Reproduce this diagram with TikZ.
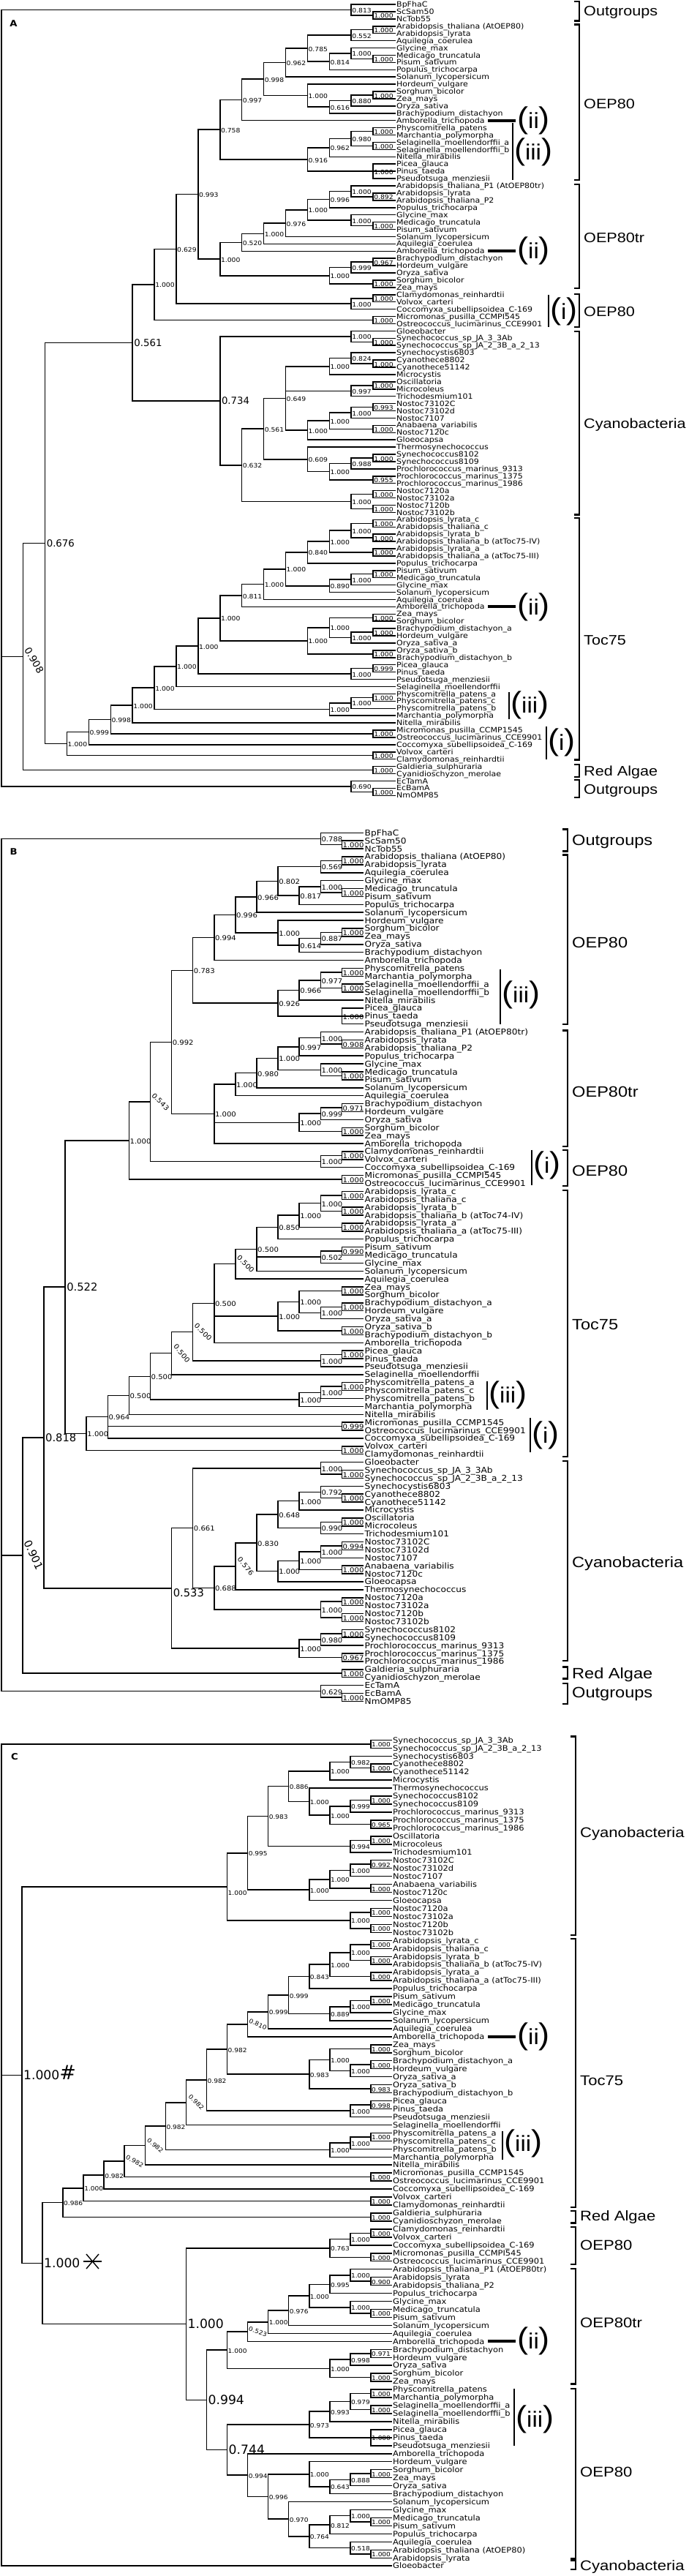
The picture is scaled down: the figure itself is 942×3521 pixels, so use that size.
\documentclass[tikz,border=0pt]{standalone}
\usepackage{fontspec}
\setmainfont{DejaVu Sans}
\newfontfamily\cnd[FakeStretch=1.1]{DejaVu Sans}
\newfontfamily\bgf{DejaVu Sans}
\newfontfamily\grf[FakeStretch=1.15]{Liberation Sans}
\newfontfamily\rmf[FakeStretch=1.1]{Liberation Sans}
\catcode`\_=12
\tikzset{
  br/.style={line width=1.5pt, line cap=rect},
  leaf/.style={anchor=base west, inner sep=0pt, xshift=2pt, yshift=-\lfd, font=\lff},
  bs/.style={anchor=base west, inner sep=0pt, xshift=1pt, yshift=-\bsd, font=\bsf},
  big/.style={anchor=base west, inner sep=0pt, xshift=2pt, yshift=-\bgd, font=\bgff},
  rot/.style={anchor=center, inner sep=0pt, xshift=14pt, rotate=#1, font=\bsf},
  bigrot/.style={anchor=center, inner sep=0pt, shift={(\brx,\bry)}, rotate=#1, font=\bgff},
  grp/.style={anchor=base west, inner sep=0pt, yshift=-\grd, font=\grff},
  rn/.style={anchor=west, inner sep=0pt, font=\rmf},
  gl/.style={line width=2.4pt},
  plet/.style={inner sep=0pt, font=\cnd\bfseries\fontsize{12}{12}\selectfont},
}
\newcommand\Lf[2]{%
  \pgfmathsetmacro\myty{\PY+(#1-1)*\PD}%
  \expandafter\xdef\csname TY:\PF#1\endcsname{\myty}%
  \expandafter\xdef\csname TH:\PF#1\endcsname{0}%
  \coordinate (\PF#1) at (\PX,\myty);%
  \node[leaf] (\PF#1t) at (\PF#1) {#2};%
}
\newcommand\Nd[4][bs]{%
  \gdef\mhmax{0}\gdef\mcf{}\gdef\mcl{}%
  \foreach \kid in {#4}{%
    \ifx\mcf\empty\xdef\mcf{\kid}\fi
    \xdef\mcl{\kid}%
    \edef\mhc{\csname TH:\kid\endcsname}%
    \pgfmathsetmacro\mtmp{max(\mhmax,\mhc)}%
    \xdef\mhmax{\mtmp}%
  }%
  \pgfmathsetmacro\mhh{\mhmax+1}%
  \pgfmathsetmacro\mxx{\PX-\PS*\mhh}%
  \edef\mya{\csname TY:\mcf\endcsname}%
  \edef\myb{\csname TY:\mcl\endcsname}%
  \pgfmathsetmacro\myy{(\mya+\myb)/2}%
  \expandafter\xdef\csname TY:#2\endcsname{\myy}%
  \expandafter\xdef\csname TH:#2\endcsname{\mhh}%
  \coordinate (#2) at (\mxx,\myy);%
  \draw[br] (#2 |- \mcf) -- (#2 |- \mcl);%
  \foreach \kid in {#4}{\draw[br] (#2 |- \kid) -- (\kid);}%
  \ifx\relax#3\relax\else\node[#1] (#2l) at (#2) {#3};\fi
}
\newcommand\Grp[5]{%
  \draw[gl] (\GX-7,#2) -- (\GX,#2) -- (\GX,#3) -- (\GX-7,#3);
  \node[grp] (#1) at (\GX+6,#4) {#5};}
\newcommand\rnt[1]{{\fontsize{41}{41}\selectfont(}{\fontsize{30}{30}\selectfont#1}{\fontsize{41}{41}\selectfont)}}
\newcommand\Mii[2]{%
  \draw[line width=4pt] (667,#2) -- (705,#2);
  \node[rn] (#1) at (707,#2) {\rnt{ii}};}
\newcommand\Mv[6]{%
  \draw[line width=2.5pt] (#2,#3) -- (#2,#4);
  \node[rn] (#1) at (#2+2,#5) {\rnt{#6}};}
\begin{document}
\begin{tikzpicture}[x=1pt,y=-1pt]
\fill[white] (0,0) rectangle (942,3521);
\useasboundingbox (0,0) rectangle (942,3521);
%================ PANEL A
\def\PF{A}\def\PX{540}\def\PS{29.9}\def\PY{6}\def\PD{9.92}
\def\lff{\cnd\fontsize{10}{10}\selectfont}\def\lfd{3.6pt}
\def\bsf{\cnd\fontsize{8.4}{8.4}\selectfont}\def\bsd{4pt}
\def\bgff{\bgf\fontsize{13.3}{13.3}\selectfont}\def\bgd{4.8pt}
\def\grff{\grf\fontsize{18.8}{18.8}\selectfont}\def\grd{6.7pt}
\def\GX{792}\def\brx{15pt}\def\bry{-5pt}
\node[plet] (pA) at (18.6,31.7) {A};
\Lf{1}{BpFhaC}
\Lf{2}{ScSam50}
\Lf{3}{NcTob55}
\Lf{4}{Arabidopsis_thaliana (AtOEP80)}
\Lf{5}{Arabidopsis_lyrata}
\Lf{6}{Aquilegia_coerulea}
\Lf{7}{Glycine_max}
\Lf{8}{Medicago_truncatula}
\Lf{9}{Pisum_sativum}
\Lf{10}{Populus_trichocarpa}
\Lf{11}{Solanum_lycopersicum}
\Lf{12}{Hordeum_vulgare}
\Lf{13}{Sorghum_bicolor}
\Lf{14}{Zea_mays}
\Lf{15}{Oryza_sativa}
\Lf{16}{Brachypodium_distachyon}
\Lf{17}{Amborella_trichopoda}
\Lf{18}{Physcomitrella_patens}
\Lf{19}{Marchantia_polymorpha}
\Lf{20}{Selaginella_moellendorffii_a}
\Lf{21}{Selaginella_moellendorffii_b}
\Lf{22}{Nitella_mirabilis}
\Lf{23}{Picea_glauca}
\Lf{24}{Pinus_taeda}
\Lf{25}{Pseudotsuga_menziesii}
\Lf{26}{Arabidopsis_thaliana_P1 (AtOEP80tr)}
\Lf{27}{Arabidopsis_lyrata}
\Lf{28}{Arabidopsis_thaliana_P2}
\Lf{29}{Populus_trichocarpa}
\Lf{30}{Glycine_max}
\Lf{31}{Medicago_truncatula}
\Lf{32}{Pisum_sativum}
\Lf{33}{Solanum_lycopersicum}
\Lf{34}{Aquilegia_coerulea}
\Lf{35}{Amborella_trichopoda}
\Lf{36}{Brachypodium_distachyon}
\Lf{37}{Hordeum_vulgare}
\Lf{38}{Oryza_sativa}
\Lf{39}{Sorghum_bicolor}
\Lf{40}{Zea_mays}
\Lf{41}{Clamydomonas_reinhardtii}
\Lf{42}{Volvox_carteri}
\Lf{43}{Coccomyxa_subellipsoidea_C-169}
\Lf{44}{Micromonas_pusilla_CCMPI545}
\Lf{45}{Ostreococcus_lucimarinus_CCE9901}
\Lf{46}{Gloeobacter}
\Lf{47}{Synechococcus_sp_JA_3_3Ab}
\Lf{48}{Synechococcus_sp_JA_2_3B_a_2_13}
\Lf{49}{Synechocystis6803}
\Lf{50}{Cyanothece8802}
\Lf{51}{Cyanothece51142}
\Lf{52}{Microcystis}
\Lf{53}{Oscillatoria}
\Lf{54}{Microcoleus}
\Lf{55}{Trichodesmium101}
\Lf{56}{Nostoc73102C}
\Lf{57}{Nostoc73102d}
\Lf{58}{Nostoc7107}
\Lf{59}{Anabaena_variabilis}
\Lf{60}{Nostoc7120c}
\Lf{61}{Gloeocapsa}
\Lf{62}{Thermosynechococcus}
\Lf{63}{Synechococcus8102}
\Lf{64}{Synechococcus8109}
\Lf{65}{Prochlorococcus_marinus_9313}
\Lf{66}{Prochlorococcus_marinus_1375}
\Lf{67}{Prochlorococcus_marinus_1986}
\Lf{68}{Nostoc7120a}
\Lf{69}{Nostoc73102a}
\Lf{70}{Nostoc7120b}
\Lf{71}{Nostoc73102b}
\Lf{72}{Arabidopsis_lyrata_c}
\Lf{73}{Arabidopsis_thaliana_c}
\Lf{74}{Arabidopsis_lyrata_b}
\Lf{75}{Arabidopsis_thaliana_b (atToc75-IV)}
\Lf{76}{Arabidopsis_lyrata_a}
\Lf{77}{Arabidopsis_thaliana_a (atToc75-III)}
\Lf{78}{Populus_trichocarpa}
\Lf{79}{Pisum_sativum}
\Lf{80}{Medicago_truncatula}
\Lf{81}{Glycine_max}
\Lf{82}{Solanum_lycopersicum}
\Lf{83}{Aquilegia_coerulea}
\Lf{84}{Amborella_trichopoda}
\Lf{85}{Zea_mays}
\Lf{86}{Sorghum_bicolor}
\Lf{87}{Brachypodium_distachyon_a}
\Lf{88}{Hordeum_vulgare}
\Lf{89}{Oryza_sativa_a}
\Lf{90}{Oryza_sativa_b}
\Lf{91}{Brachypodium_distachyon_b}
\Lf{92}{Picea_glauca}
\Lf{93}{Pinus_taeda}
\Lf{94}{Pseudotsuga_menziesii}
\Lf{95}{Selaginella_moellendorffii}
\Lf{96}{Physcomitrella_patens_a}
\Lf{97}{Physcomitrella_patens_c}
\Lf{98}{Physcomitrella_patens_b}
\Lf{99}{Marchantia_polymorpha}
\Lf{100}{Nitella_mirabilis}
\Lf{101}{Micromonas_pusilla_CCMP1545}
\Lf{102}{Ostreococcus_lucimarinus_CCE9901}
\Lf{103}{Coccomyxa_subellipsoidea_C-169}
\Lf{104}{Volvox_carteri}
\Lf{105}{Clamydomonas_reinhardtii}
\Lf{106}{Galdieria_sulphuraria}
\Lf{107}{Cyanidioschyzon_merolae}
\Lf{108}{EcTamA}
\Lf{109}{EcBamA}
\Lf{110}{NmOMP85}
\Nd{An1}{1.000}{A2,A3}
\Nd{An2}{0.813}{A1,An1}
\Nd{Ao1}{1.000}{A4,A5}
\Nd{Ao2}{0.552}{Ao1,A6}
\Nd{Ao3}{1.000}{A8,A9}
\Nd{Ao4}{1.000}{A7,Ao3}
\Nd{Ao5}{0.814}{Ao4,A10}
\Nd{Ao6}{0.785}{Ao2,Ao5}
\Nd{Ao7}{0.962}{Ao6,A11}
\Nd{Ao8}{1.000}{A13,A14}
\Nd{Ao9}{0.880}{Ao8,A15}
\Nd{Ao10}{0.616}{Ao9,A16}
\Nd{Ao11}{1.000}{A12,Ao10}
\Nd{Ao12}{0.998}{Ao7,Ao11}
\Nd{Ao13}{0.997}{Ao12,A17}
\Nd{Ao14}{1.000}{A18,A19}
\Nd{Ao15}{1.000}{A20,A21}
\Nd{Ao16}{0.980}{Ao14,Ao15}
\Nd{Ao17}{0.962}{Ao16,A22}
\Nd{Ao18}{1.000}{A23,A24,A25}
\Nd{Ao19}{0.916}{Ao17,Ao18}
\Nd{Ao20}{0.758}{Ao13,Ao19}
\Nd{At1}{0.892}{A27,A28}
\Nd{At2}{1.000}{A26,At1}
\Nd{At3}{0.996}{At2,A29}
\Nd{At4}{1.000}{A31,A32}
\Nd{At5}{1.000}{A30,At4}
\Nd{At6}{1.000}{At3,At5}
\Nd{At7}{0.976}{At6,A33}
\Nd{At8}{1.000}{At7,A34}
\Nd{At9}{0.520}{At8,A35}
\Nd{At10}{0.967}{A36,A37}
\Nd{At11}{0.999}{At10,A38}
\Nd{At12}{1.000}{A39,A40}
\Nd{At13}{1.000}{At11,At12}
\Nd{At14}{1.000}{At9,At13}
\Nd{Ap1}{0.993}{Ao20,At14}
\Nd{Ac1}{1.000}{A41,A42}
\Nd{Ac2}{1.000}{Ac1,A43}
\Nd{Ap2}{0.629}{Ap1,Ac2}
\Nd{Am1}{1.000}{A44,A45}
\Nd{Ap3}{1.000}{Ap2,Am1}
\Nd{Ay1}{1.000}{A47,A48}
\Nd{Ay2}{1.000}{A46,Ay1}
\Nd{Ay3}{1.000}{A50,A51}
\Nd{Ay4}{0.824}{A49,Ay3}
\Nd{Ay5}{1.000}{Ay4,A52}
\Nd{Ay6}{1.000}{A53,A54}
\Nd{Ay7}{0.997}{Ay6,A55}
\Nd{Ay8}{0.993}{A56,A57}
\Nd{Ay9}{1.000}{Ay8,A58}
\Nd{Ay10}{1.000}{A59,A60}
\Nd{Ay11}{1.000}{Ay9,Ay10}
\Nd{Ay12}{1.000}{Ay11,A61}
\Nd{Ay13}{0.649}{Ay5,Ay7,Ay12}
\Nd{Ay14}{1.000}{A63,A64}
\Nd{Ay15}{0.988}{Ay14,A65}
\Nd{Ay16}{0.955}{A66,A67}
\Nd{Ay17}{1.000}{Ay15,Ay16}
\Nd{Ay18}{0.609}{A62,Ay17}
\Nd{Ay19}{0.561}{Ay13,Ay18}
\Nd{Ay20}{1.000}{A68,A69}
\Nd{Ay21}{1.000}{A70,A71}
\Nd{Ay22}{1.000}{Ay20,Ay21}
\Nd{Ay23}{0.632}{Ay19,Ay22}
\Nd[big]{Ay24}{0.734}{Ay2,Ay23}
\Nd[big]{Ar1}{0.561}{Ap3,Ay24}
\Nd{Ak1}{1.000}{A72,A73}
\Nd{Ak2}{1.000}{A74,A75}
\Nd{Ak3}{1.000}{Ak1,Ak2}
\Nd{Ak4}{1.000}{A76,A77}
\Nd{Ak5}{1.000}{Ak3,Ak4}
\Nd{Ak6}{0.840}{Ak5,A78}
\Nd{Ak7}{1.000}{A79,A80}
\Nd{Ak8}{1.000}{Ak7,A81}
\Nd{Ak9}{0.890}{Ak8,A82}
\Nd{Ak10}{1.000}{Ak6,Ak9}
\Nd{Ak11}{1.000}{Ak10,A83}
\Nd{Ak12}{0.811}{Ak11,A84}
\Nd{Ak13}{1.000}{A85,A86}
\Nd{Ak14}{1.000}{A87,A88}
\Nd{Ak15}{1.000}{Ak14,A89}
\Nd{Ak16}{1.000}{Ak13,Ak15}
\Nd{Ak17}{1.000}{A90,A91}
\Nd{Ak18}{1.000}{Ak16,Ak17}
\Nd{Ak19}{1.000}{Ak12,Ak18}
\Nd{Ak20}{0.999}{A92,A93}
\Nd{Ak21}{1.000}{Ak20,A94}
\Nd{Ak22}{1.000}{Ak19,Ak21}
\Nd{Ak23}{1.000}{Ak22,A95}
\Nd{Ak24}{1.000}{A96,A97}
\Nd{Ak25}{1.000}{Ak24,A98}
\Nd{Ak26}{1.000}{Ak25,A99}
\Nd{Ak27}{1.000}{Ak23,Ak26}
\Nd{Ak28}{1.000}{Ak27,A100}
\Nd{Ak29}{1.000}{A101,A102}
\Nd{Ak30}{0.998}{Ak28,Ak29}
\Nd{Ak31}{0.999}{Ak30,A103}
\Nd{Ak32}{1.000}{A104,A105}
\Nd{Ak33}{1.000}{Ak31,Ak32}
\Nd[big]{Ar2}{0.676}{Ar1,Ak33}
\Nd{Ara}{1.000}{A106,A107}
\Nd[bigrot=-60]{Ar3}{0.908}{Ar2,Ara}
\Nd{Aq1}{1.000}{A109,A110}
\Nd{Aq2}{0.690}{A108,Aq1}
\Nd{Aroot}{}{An2,Ar3,Aq2}
\Grp{gA1}{1.7}{28.3}{15}{Outgroups}
\Grp{gA2}{33.3}{245.7}{141.7}{OEP80}
\Grp{gA3}{251.7}{394}{324.3}{OEP80tr}
\Grp{gA4}{401.7}{446.7}{426}{OEP80}
\Grp{gA5}{452.7}{703.3}{578.3}{Cyanobacteria}
\Grp{gA6}{707.7}{1038.3}{875}{Toc75}
\Grp{gA7}{1045}{1061.7}{1053.3}{Red Algae}
\Grp{gA8}{1065.7}{1090}{1078.3}{Outgroups}
\Mii{mA1}{164.7}
\Mv{mA2}{700.8}{168.3}{245.7}{208.3}{iii}
\Mii{mA3}{343.3}
\Mv{mA4}{750}{403}{446.7}{426}{i}
\Mii{mA5}{829.4}
\Mv{mA6}{696}{946}{983.3}{964.3}{iii}
\Mv{mA7}{747}{993.3}{1038.3}{1015}{i}
%================ PANEL B
\def\PF{B}\def\PX{496.5}\def\PS{29.1}\def\PY{1138.3}\def\PD{10.89}
\def\lff{\cnd\fontsize{11.05}{11.05}\selectfont}\def\lfd{4pt}
\def\bsf{\cnd\fontsize{9.15}{9.15}\selectfont}\def\bsd{4.3pt}
\def\bgff{\bgf\fontsize{14.7}{14.7}\selectfont}\def\bgd{5.3pt}
\def\grff{\grf\fontsize{20.5}{20.5}\selectfont}\def\grd{7.3pt}
\def\GX{776}\def\brx{15pt}\def\bry{1pt}
\node[plet] (pB) at (18.6,1164.3) {B};
\Lf{1}{BpFhaC}
\Lf{2}{ScSam50}
\Lf{3}{NcTob55}
\Lf{4}{Arabidopsis_thaliana (AtOEP80)}
\Lf{5}{Arabidopsis_lyrata}
\Lf{6}{Aquilegia_coerulea}
\Lf{7}{Glycine_max}
\Lf{8}{Medicago_truncatula}
\Lf{9}{Pisum_sativum}
\Lf{10}{Populus_trichocarpa}
\Lf{11}{Solanum_lycopersicum}
\Lf{12}{Hordeum_vulgare}
\Lf{13}{Sorghum_bicolor}
\Lf{14}{Zea_mays}
\Lf{15}{Oryza_sativa}
\Lf{16}{Brachypodium_distachyon}
\Lf{17}{Amborella_trichopoda}
\Lf{18}{Physcomitrella_patens}
\Lf{19}{Marchantia_polymorpha}
\Lf{20}{Selaginella_moellendorffii_a}
\Lf{21}{Selaginella_moellendorffii_b}
\Lf{22}{Nitella_mirabilis}
\Lf{23}{Picea_glauca}
\Lf{24}{Pinus_taeda}
\Lf{25}{Pseudotsuga_menziesii}
\Lf{26}{Arabidopsis_thaliana_P1 (AtOEP80tr)}
\Lf{27}{Arabidopsis_lyrata}
\Lf{28}{Arabidopsis_thaliana_P2}
\Lf{29}{Populus_trichocarpa}
\Lf{30}{Glycine_max}
\Lf{31}{Medicago_truncatula}
\Lf{32}{Pisum_sativum}
\Lf{33}{Solanum_lycopersicum}
\Lf{34}{Aquilegia_coerulea}
\Lf{35}{Brachypodium_distachyon}
\Lf{36}{Hordeum_vulgare}
\Lf{37}{Oryza_sativa}
\Lf{38}{Sorghum_bicolor}
\Lf{39}{Zea_mays}
\Lf{40}{Amborella_trichopoda}
\Lf{41}{Clamydomonas_reinhardtii}
\Lf{42}{Volvox_carteri}
\Lf{43}{Coccomyxa_subellipsoidea_C-169}
\Lf{44}{Micromonas_pusilla_CCMPI545}
\Lf{45}{Ostreococcus_lucimarinus_CCE9901}
\Lf{46}{Arabidopsis_lyrata_c}
\Lf{47}{Arabidopsis_thaliana_c}
\Lf{48}{Arabidopsis_lyrata_b}
\Lf{49}{Arabidopsis_thaliana_b (atToc74-IV)}
\Lf{50}{Arabidopsis_lyrata_a}
\Lf{51}{Arabidopsis_thaliana_a (atToc75-III)}
\Lf{52}{Populus_trichocarpa}
\Lf{53}{Pisum_sativum}
\Lf{54}{Medicago_truncatula}
\Lf{55}{Glycine_max}
\Lf{56}{Solanum_lycopersicum}
\Lf{57}{Aquilegia_coerulea}
\Lf{58}{Zea_mays}
\Lf{59}{Sorghum_bicolor}
\Lf{60}{Brachypodium_distachyon_a}
\Lf{61}{Hordeum_vulgare}
\Lf{62}{Oryza_sativa_a}
\Lf{63}{Oryza_sativa_b}
\Lf{64}{Brachypodium_distachyon_b}
\Lf{65}{Amborella_trichopoda}
\Lf{66}{Picea_glauca}
\Lf{67}{Pinus_taeda}
\Lf{68}{Pseudotsuga_menziesii}
\Lf{69}{Selaginella_moellendorffii}
\Lf{70}{Physcomitrella_patens_a}
\Lf{71}{Physcomitrella_patens_c}
\Lf{72}{Physcomitrella_patens_b}
\Lf{73}{Marchantia_polymorpha}
\Lf{74}{Nitella_mirabilis}
\Lf{75}{Micromonas_pusilla_CCMP1545}
\Lf{76}{Ostreococcus_lucimarinus_CCE9901}
\Lf{77}{Coccomyxa_subellipsoidea_C-169}
\Lf{78}{Volvox_carteri}
\Lf{79}{Clamydomonas_reinhardtii}
\Lf{80}{Gloeobacter}
\Lf{81}{Synechococcus_sp_JA_3_3Ab}
\Lf{82}{Synechococcus_sp_JA_2_3B_a_2_13}
\Lf{83}{Synechocystis6803}
\Lf{84}{Cyanothece8802}
\Lf{85}{Cyanothece51142}
\Lf{86}{Microcystis}
\Lf{87}{Oscillatoria}
\Lf{88}{Microcoleus}
\Lf{89}{Trichodesmium101}
\Lf{90}{Nostoc73102C}
\Lf{91}{Nostoc73102d}
\Lf{92}{Nostoc7107}
\Lf{93}{Anabaena_variabilis}
\Lf{94}{Nostoc7120c}
\Lf{95}{Gloeocapsa}
\Lf{96}{Thermosynechococcus}
\Lf{97}{Nostoc7120a}
\Lf{98}{Nostoc73102a}
\Lf{99}{Nostoc7120b}
\Lf{100}{Nostoc73102b}
\Lf{101}{Synechococcus8102}
\Lf{102}{Synechococcus8109}
\Lf{103}{Prochlorococcus_marinus_9313}
\Lf{104}{Prochlorococcus_marinus_1375}
\Lf{105}{Prochlorococcus_marinus_1986}
\Lf{106}{Galdieria_sulphuraria}
\Lf{107}{Cyanidioschyzon_merolae}
\Lf{108}{EcTamA}
\Lf{109}{EcBamA}
\Lf{110}{NmOMP85}
\Nd{Bn1}{1.000}{B2,B3}
\Nd{Bn2}{0.788}{B1,Bn1}
\Nd{Bo1}{1.000}{B4,B5}
\Nd{Bo2}{0.569}{Bo1,B6}
\Nd{Bo3}{1.000}{B8,B9}
\Nd{Bo4}{1.000}{B7,Bo3}
\Nd{Bo5}{0.817}{Bo4,B10}
\Nd{Bo6}{0.802}{Bo2,Bo5}
\Nd{Bo7}{0.966}{Bo6,B11}
\Nd{Bo8}{1.000}{B13,B14}
\Nd{Bo9}{0.887}{Bo8,B15}
\Nd{Bo10}{0.614}{Bo9,B16}
\Nd{Bo11}{1.000}{B12,Bo10}
\Nd{Bo12}{0.996}{Bo7,Bo11}
\Nd{Bo13}{0.994}{Bo12,B17}
\Nd{Bo14}{1.000}{B18,B19}
\Nd{Bo15}{1.000}{B20,B21}
\Nd{Bo16}{0.977}{Bo14,Bo15}
\Nd{Bo17}{0.966}{Bo16,B22}
\Nd{Bo18}{1.000}{B23,B24,B25}
\Nd{Bo19}{0.926}{Bo17,Bo18}
\Nd{Bo20}{0.783}{Bo13,Bo19}
\Nd{Bt1}{0.908}{B27,B28}
\Nd{Bt2}{1.000}{B26,Bt1}
\Nd{Bt3}{0.997}{Bt2,B29}
\Nd{Bt4}{1.000}{B31,B32}
\Nd{Bt5}{1.000}{B30,Bt4}
\Nd{Bt6}{1.000}{Bt3,Bt5}
\Nd{Bt7}{0.980}{Bt6,B33}
\Nd{Bt8}{1.000}{Bt7,B34}
\Nd{Bt9}{0.971}{B35,B36}
\Nd{Bt10}{0.999}{Bt9,B37}
\Nd{Bt11}{1.000}{B38,B39}
\Nd{Bt12}{1.000}{Bt10,Bt11}
\Nd{Bt13}{1.000}{Bt8,Bt12,B40}
\Nd{Bp1}{0.992}{Bo20,Bt13}
\Nd{Bc1}{1.000}{B41,B42}
\Nd{Bc2}{1.000}{Bc1,B43}
\Nd[rot=-45]{Bp2}{0.543}{Bp1,Bc2}
\Nd{Bm1}{1.000}{B44,B45}
\Nd{Bp3}{1.000}{Bp2,Bm1}
\Nd{Bk1}{1.000}{B46,B47}
\Nd{Bk2}{1.000}{B48,B49}
\Nd{Bk3}{1.000}{Bk1,Bk2}
\Nd{Bk4}{1.000}{B50,B51}
\Nd{Bk5}{1.000}{Bk3,Bk4}
\Nd{Bk6}{0.850}{Bk5,B52}
\Nd{Bk7}{0.990}{B53,B54}
\Nd{Bk8}{0.502}{Bk7,B55}
\Nd{Bk9}{0.500}{Bk6,Bk8,B56}
\Nd[rot=-45]{Bk10}{0.500}{Bk9,B57}
\Nd{Bk11}{1.000}{B58,B59}
\Nd{Bk12}{1.000}{B60,B61}
\Nd{Bk13}{1.000}{Bk12,B62}
\Nd{Bk14}{1.000}{Bk11,Bk13}
\Nd{Bk15}{1.000}{B63,B64}
\Nd{Bk16}{1.000}{Bk14,Bk15}
\Nd{Bk17}{0.500}{Bk10,Bk16,B65}
\Nd{Bk18}{1.000}{B66,B67}
\Nd{Bk19}{1.000}{Bk18,B68}
\Nd[rot=-45]{Bk20}{0.500}{Bk17,Bk19}
\Nd[rot=-50]{Bk21}{0.500}{Bk20,B69}
\Nd{Bk22}{1.000}{B70,B71}
\Nd{Bk23}{1.000}{Bk22,B72}
\Nd{Bk24}{1.000}{Bk23,B73}
\Nd{Bk25}{0.500}{Bk21,Bk24}
\Nd{Bk26}{0.500}{Bk25,B74}
\Nd{Bk27}{0.999}{B75,B76}
\Nd{Bk28}{0.964}{Bk26,Bk27,B77}
\Nd{Bk29}{1.000}{B78,B79}
\Nd{Bk30}{1.000}{Bk28,Bk29}
\Nd{By1}{1.000}{B81,B82}
\Nd{By2}{1.000}{B80,By1}
\Nd{By3}{1.000}{B84,B85}
\Nd{By4}{0.792}{B83,By3}
\Nd{By5}{1.000}{By4,B86}
\Nd{By6}{1.000}{B87,B88}
\Nd{By7}{0.990}{By6,B89}
\Nd{By8}{0.648}{By5,By7}
\Nd{By9}{0.994}{B90,B91}
\Nd{By10}{1.000}{By9,B92}
\Nd{By11}{1.000}{B93,B94}
\Nd{By12}{1.000}{By10,By11}
\Nd{By13}{1.000}{By12,B95}
\Nd{By14}{0.830}{By8,By13}
\Nd[rot=-50]{By15}{0.576}{By14,B96}
\Nd{By16}{1.000}{B97,B98}
\Nd{By17}{1.000}{B99,B100}
\Nd{By18}{1.000}{By16,By17}
\Nd{By19}{0.688}{By15,By18}
\Nd{By20}{0.661}{By2,By19}
\Nd{By21}{1.000}{B101,B102}
\Nd{By22}{0.980}{By21,B103}
\Nd{By23}{0.967}{B104,B105}
\Nd{By24}{1.000}{By22,By23}
\Nd[big,yshift=-6pt]{By25}{0.533}{By20,By24}
\Nd[big]{Bq1}{0.522}{Bp3,Bk30}
\Nd[big]{Bq2}{0.818}{Bq1,By25}
\Nd{Bra}{1.000}{B106,B107}
\Nd[bigrot=-65]{Bq3}{0.901}{Bq2,Bra}
\Nd{Bz1}{1.000}{B109,B110}
\Nd{Bz2}{0.629}{B108,Bz1}
\Nd{Broot}{}{Bn2,Bq3,Bz2}
\Grp{gB1}{1133.3}{1163.3}{1148.3}{Outgroups}
\Grp{gB2}{1168.3}{1400}{1288.3}{OEP80}
\Grp{gB3}{1408.3}{1566.7}{1491.7}{OEP80tr}
\Grp{gB4}{1571.7}{1621}{1600}{OEP80}
\Grp{gB5}{1626.7}{1991}{1810}{Toc75}
\Grp{gB6}{1996.7}{2270}{2135}{Cyanobacteria}
\Grp{gB7}{2278.3}{2294.3}{2286.7}{Red Algae}
\Grp{gB8}{2300.7}{2329}{2313.3}{Outgroups}
\Mv{mB1}{684}{1325}{1400}{1360}{iii}
\Mv{mB2}{727}{1571.7}{1620}{1593.3}{i}
\Mv{mB3}{666}{1887.7}{1926.7}{1906.7}{iii}
\Mv{mB4}{725}{1938.3}{1985}{1961.7}{i}
%================ PANEL C
\def\PF{C}\def\PX{535}\def\PS{28.06}\def\PY{2378.3}\def\PD{10.96}
\def\lff{\cnd\fontsize{10.4}{10.4}\selectfont}\def\lfd{3.75pt}
\def\bsf{\cnd\fontsize{8.2}{8.2}\selectfont}\def\bsd{4pt}
\def\bgff{\bgf\fontsize{17.2}{17.2}\selectfont}\def\bgd{6.2pt}
\def\grff{\grf\fontsize{19.2}{19.2}\selectfont}\def\grd{6.9pt}
\def\GX{787}
\node[plet] (pC) at (20,2401) {C};
\Lf{1}{Synechococcus_sp_JA_3_3Ab}
\Lf{2}{Synechococcus_sp_JA_2_3B_a_2_13}
\Lf{3}{Synechocystis6803}
\Lf{4}{Cyanothece8802}
\Lf{5}{Cyanothece51142}
\Lf{6}{Microcystis}
\Lf{7}{Thermosynechococcus}
\Lf{8}{Synechococcus8102}
\Lf{9}{Synechococcus8109}
\Lf{10}{Prochlorococcus_marinus_9313}
\Lf{11}{Prochlorococcus_marinus_1375}
\Lf{12}{Prochlorococcus_marinus_1986}
\Lf{13}{Oscillatoria}
\Lf{14}{Microcoleus}
\Lf{15}{Trichodesmium101}
\Lf{16}{Nostoc73102C}
\Lf{17}{Nostoc73102d}
\Lf{18}{Nostoc7107}
\Lf{19}{Anabaena_variabilis}
\Lf{20}{Nostoc7120c}
\Lf{21}{Gloeocapsa}
\Lf{22}{Nostoc7120a}
\Lf{23}{Nostoc73102a}
\Lf{24}{Nostoc7120b}
\Lf{25}{Nostoc73102b}
\Lf{26}{Arabidopsis_lyrata_c}
\Lf{27}{Arabidopsis_thaliana_c}
\Lf{28}{Arabidopsis_lyrata_b}
\Lf{29}{Arabidopsis_thaliana_b (atToc75-IV)}
\Lf{30}{Arabidopsis_lyrata_a}
\Lf{31}{Arabidopsis_thaliana_a (atToc75-III)}
\Lf{32}{Populus_trichocarpa}
\Lf{33}{Pisum_sativum}
\Lf{34}{Medicago_truncatula}
\Lf{35}{Glycine_max}
\Lf{36}{Solanum_lycopersicum}
\Lf{37}{Aquilegia_coerulea}
\Lf{38}{Amborella_trichopoda}
\Lf{39}{Zea_mays}
\Lf{40}{Sorghum_bicolor}
\Lf{41}{Brachypodium_distachyon_a}
\Lf{42}{Hordeum_vulgare}
\Lf{43}{Oryza_sativa_a}
\Lf{44}{Oryza_sativa_b}
\Lf{45}{Brachypodium_distachyon_b}
\Lf{46}{Picea_glauca}
\Lf{47}{Pinus_taeda}
\Lf{48}{Pseudotsuga_menziesii}
\Lf{49}{Selaginella_moellendorffii}
\Lf{50}{Physcomitrella_patens_a}
\Lf{51}{Physcomitrella_patens_c}
\Lf{52}{Physcomitrella_patens_b}
\Lf{53}{Marchantia_polymorpha}
\Lf{54}{Nitella_mirabilis}
\Lf{55}{Micromonas_pusilla_CCMP1545}
\Lf{56}{Ostreococcus_lucimarinus_CCE9901}
\Lf{57}{Coccomyxa_subellipsoidea_C-169}
\Lf{58}{Volvox_carteri}
\Lf{59}{Clamydomonas_reinhardtii}
\Lf{60}{Galdieria_sulphuraria}
\Lf{61}{Cyanidioschyzon_merolae}
\Lf{62}{Clamydomonas_reinhardtii}
\Lf{63}{Volvox_carteri}
\Lf{64}{Coccomyxa_subellipsoidea_C-169}
\Lf{65}{Micromonas_pusilla_CCMPI545}
\Lf{66}{Ostreococcus_lucimarinus_CCE9901}
\Lf{67}{Arabidopsis_thaliana_P1 (AtOEP80tr)}
\Lf{68}{Arabidopsis_lyrata}
\Lf{69}{Arabidopsis_thaliana_P2}
\Lf{70}{Populus_trichocarpa}
\Lf{71}{Glycine_max}
\Lf{72}{Medicago_truncatula}
\Lf{73}{Pisum_sativum}
\Lf{74}{Solanum_lycopersicum}
\Lf{75}{Aquilegia_coerulea}
\Lf{76}{Amborella_trichopoda}
\Lf{77}{Brachypodium_distachyon}
\Lf{78}{Hordeum_vulgare}
\Lf{79}{Oryza_sativa}
\Lf{80}{Sorghum_bicolor}
\Lf{81}{Zea_mays}
\Lf{82}{Physcomitrella_patens}
\Lf{83}{Marchantia_polymorpha}
\Lf{84}{Selaginella_moellendorffii_a}
\Lf{85}{Selaginella_moellendorffii_b}
\Lf{86}{Nitella_mirabilis}
\Lf{87}{Picea_glauca}
\Lf{88}{Pinus_taeda}
\Lf{89}{Pseudotsuga_menziesii}
\Lf{90}{Amborella_trichopoda}
\Lf{91}{Hordeum_vulgare}
\Lf{92}{Sorghum_bicolor}
\Lf{93}{Zea_mays}
\Lf{94}{Oryza_sativa}
\Lf{95}{Brachypodium_distachyon}
\Lf{96}{Solanum_lycopersicum}
\Lf{97}{Glycine_max}
\Lf{98}{Medicago_truncatula}
\Lf{99}{Pisum_sativum}
\Lf{100}{Populus_trichocarpa}
\Lf{101}{Aquilegia_coerulea}
\Lf{102}{Arabidopsis_thaliana (AtOEP80)}
\Lf{103}{Arabidopsis_lyrata}
\Lf{104}{Gloeobacter}
\Nd{Cn1}{1.000}{C1,C2}
\Nd{Cy1}{1.000}{C4,C5}
\Nd{Cy2}{0.982}{C3,Cy1}
\Nd{Cy3}{1.000}{Cy2,C6}
\Nd{Cy4}{1.000}{C8,C9}
\Nd{Cy5}{0.999}{Cy4,C10}
\Nd{Cy6}{0.965}{C11,C12}
\Nd{Cy7}{1.000}{Cy5,Cy6}
\Nd{Cy8}{1.000}{C7,Cy7}
\Nd{Cy9}{0.886}{Cy3,Cy8}
\Nd{Cy10}{1.000}{C13,C14}
\Nd{Cy11}{0.994}{Cy10,C15}
\Nd{Cy12}{0.983}{Cy9,Cy11}
\Nd{Cy13}{0.992}{C16,C17}
\Nd{Cy14}{1.000}{Cy13,C18}
\Nd{Cy15}{1.000}{C19,C20}
\Nd{Cy16}{1.000}{Cy14,Cy15}
\Nd{Cy17}{1.000}{Cy16,C21}
\Nd{Cy18}{0.995}{Cy12,Cy17}
\Nd{Cy19}{1.000}{C22,C23}
\Nd{Cy20}{1.000}{C24,C25}
\Nd{Cy21}{1.000}{Cy19,Cy20}
\Nd[bs,yshift=-8pt]{Cy22}{1.000}{Cy18,Cy21}
\Nd{Ck1}{1.000}{C26,C27}
\Nd{Ck2}{1.000}{C28,C29}
\Nd{Ck3}{1.000}{Ck1,Ck2}
\Nd{Ck4}{1.000}{C30,C31}
\Nd{Ck5}{1.000}{Ck3,Ck4}
\Nd{Ck6}{0.843}{Ck5,C32}
\Nd{Ck7}{1.000}{C33,C34}
\Nd{Ck8}{1.000}{Ck7,C35}
\Nd{Ck9}{0.889}{Ck8,C36}
\Nd{Ck10}{0.999}{Ck6,Ck9}
\Nd{Ck11}{0.999}{Ck10,C37}
\Nd[rot=-25]{Ck12}{0.810}{Ck11,C38}
\Nd{Ck13}{1.000}{C39,C40}
\Nd{Ck14}{1.000}{C41,C42}
\Nd{Ck15}{1.000}{Ck14,C43}
\Nd{Ck16}{1.000}{Ck13,Ck15}
\Nd{Ck17}{0.983}{C44,C45}
\Nd{Ck18}{0.983}{Ck16,Ck17}
\Nd{Ck19}{0.982}{Ck12,Ck18}
\Nd{Ck20}{0.998}{C46,C47}
\Nd{Ck21}{1.000}{Ck20,C48}
\Nd{Ck22}{0.982}{Ck19,Ck21}
\Nd[rot=-45]{Ck23}{0.982}{Ck22,C49}
\Nd{Ck24}{1.000}{C50,C51}
\Nd{Ck25}{1.000}{Ck24,C52}
\Nd{Ck26}{1.000}{Ck25,C53}
\Nd{Ck27}{0.982}{Ck23,Ck26}
\Nd[rot=-40]{Ck28}{0.982}{Ck27,C54}
\Nd{Ck29}{1.000}{C55,C56}
\Nd[rot=-28]{Ck30}{0.982}{Ck28,Ck29}
\Nd{Ck31}{0.982}{Ck30,C57}
\Nd{Ck32}{1.000}{C58,C59}
\Nd{Ck33}{1.000}{Ck31,Ck32}
\Nd{Cra}{1.000}{C60,C61}
\Nd{Ck34}{0.986}{Ck33,Cra}
\Nd{Cc1}{1.000}{C62,C63}
\Nd{Cc2}{1.000}{Cc1,C64}
\Nd{Cc3}{1.000}{C65,C66}
\Nd{Cc4}{0.763}{Cc2,Cc3}
\Nd{Ct1}{0.900}{C68,C69}
\Nd{Ct2}{1.000}{C67,Ct1}
\Nd{Ct3}{0.995}{Ct2,C70}
\Nd{Ct4}{1.000}{C72,C73}
\Nd{Ct5}{1.000}{C71,Ct4}
\Nd{Ct6}{1.000}{Ct3,Ct5}
\Nd{Ct7}{0.976}{Ct6,C74}
\Nd{Ct8}{1.000}{Ct7,C75}
\Nd[rot=-18]{Ct9}{0.523}{Ct8,C76}
\Nd{Ct10}{0.971}{C77,C78}
\Nd{Ct11}{0.998}{Ct10,C79}
\Nd{Ct12}{1.000}{C80,C81}
\Nd{Ct13}{1.000}{Ct11,Ct12}
\Nd{Ct14}{1.000}{Ct9,Ct13}
\Nd{Co1}{1.000}{C82,C83}
\Nd{Co2}{1.000}{C84,C85}
\Nd{Co3}{0.979}{Co1,Co2}
\Nd{Co4}{0.993}{Co3,C86}
\Nd{Co5}{1.000}{C87,C88,C89}
\Nd{Co6}{0.973}{Co4,Co5}
\Nd{Co7}{1.000}{C92,C93}
\Nd{Co8}{0.888}{Co7,C94}
\Nd{Co9}{0.643}{Co8,C95}
\Nd{Co10}{1.000}{C91,Co9}
\Nd{Co11}{1.000}{C98,C99}
\Nd{Co12}{1.000}{C97,Co11}
\Nd{Co13}{0.812}{Co12,C100}
\Nd{Co14}{1.000}{C102,C103}
\Nd{Co15}{0.518}{C101,Co14}
\Nd{Co16}{0.764}{Co13,Co15}
\Nd{Co17}{0.970}{C96,Co16}
\Nd{Co18}{0.996}{Co10,Co17}
\Nd{Co19}{0.994}{C90,Co18}
\Nd[big]{Co20}{0.744}{Co6,Co19}
\Nd[big]{Co21}{0.994}{Ct14,Co20}
\Nd[big]{Co22}{1.000}{Cc4,Co21}
\Nd[big]{Cs}{1.000}{Ck34,Co22}
\Nd[big]{Ch}{1.000{\fontsize{27}{27}\selectfont\#}}{Cy22,Cs}
\Nd{Croot}{}{Cn1,Ch,C104}
\draw[line width=1.4pt] (114,3091) -- (139,3091);
\draw[line width=1.4pt] (118,3081) -- (135,3101);
\draw[line width=1.4pt] (135,3081) -- (118,3101);
\Grp{gC1}{2373.3}{2645}{2505}{Cyanobacteria}
\Grp{gC2}{2650}{3016.7}{2843.3}{Toc75}
\Grp{gC3}{3021.7}{3038.3}{3028.3}{Red Algae}
\Grp{gC4}{3044}{3095}{3068.3}{OEP80}
\Grp{gC5}{3100.7}{3258.3}{3175}{OEP80tr}
\Grp{gC6}{3265}{3500}{3378.3}{OEP80}
\Grp{gC7}{3497.3}{3511.7}{3506.7}{Cyanobacteria}
\Mii{mC1}{2783.8}
\Mv{mC2}{687}{2913.3}{2951.7}{2930}{iii}
\Mii{mC3}{3200.3}
\Mv{mC4}{703}{3265}{3343.3}{3306.7}{iii}
\end{tikzpicture}
\end{document}
